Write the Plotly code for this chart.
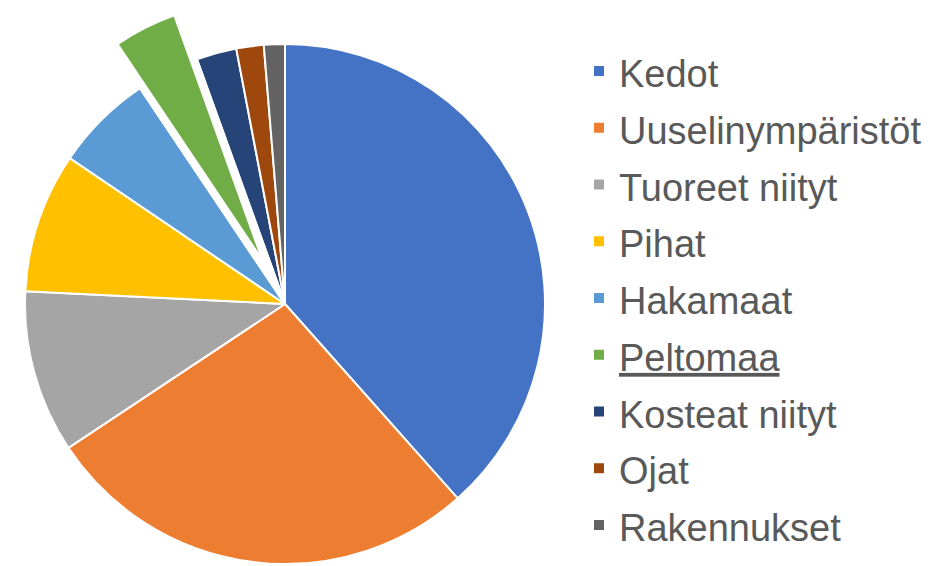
import math
import plotly.graph_objects as go

# ---- data ----
categories = ["Kedot", "Uuselinympäristöt", "Tuoreet niityt", "Pihat", "Hakamaat",
              "Peltomaa", "Kosteat niityt", "Ojat", "Rakennukset"]
shares = [38.4, 27.2, 10.1, 8.7, 6.1, 3.9, 2.5, 1.7, 1.3]
colors = ["#4472C4", "#ED7D31", "#A5A5A5", "#FFC000", "#5B9BD5",
          "#70AD47", "#264478", "#9E480E", "#636363"]
underlined = ["Peltomaa"]
pulled = "Peltomaa"

# ---- layout constants ----
W, H = 938, 566
CX, CY, R = 285, 304, 260      # pie centre / radius in px
PULL_PX = 50                   # exploded-slice offset in px
TRANSPARENT = "rgba(0,0,0,0)"


def domain(cx, cy, r):
    return dict(x=[max(0.0, (cx - r) / W), min(1.0, (cx + r) / W)],
                y=[max(0.0, 1 - (cy + r) / H), min(1.0, 1 - (cy - r) / H)])


def legend_label(name):
    txt = f"<u>{name}</u>" if name in underlined else name
    return f"<span style='font-size:38px'>{txt}</span>"


labels = [legend_label(c) for c in categories]

k = categories.index(pulled)
total = sum(shares)
before = sum(shares[:k])
after = sum(shares[k + 1:])
mid = (before + shares[k] / 2) / total * 2 * math.pi   # clockwise from 12 o'clock
ax = CX + PULL_PX * math.sin(mid)
ay = max(R, CY - PULL_PX * math.cos(mid))

common = dict(sort=False, direction="clockwise", rotation=0, textinfo="none")

fig = go.Figure()

# main pie
fig.add_trace(go.Pie(
    labels=labels, values=shares,
    marker=dict(colors=colors, line=dict(color="white", width=2)),
    domain=domain(CX, CY, R), showlegend=True, hoverinfo="label+percent",
    **common))

# blank out the exploded slice's original position
fig.add_trace(go.Pie(
    labels=["_pre", labels[k], "_post"], values=[before, shares[k], after],
    marker=dict(colors=[TRANSPARENT, "white", TRANSPARENT],
                line=dict(color=[TRANSPARENT, "white", TRANSPARENT], width=2.5)),
    domain=domain(CX, CY, R), showlegend=False, hoverinfo="skip",
    **common))

# exploded slice
fig.add_trace(go.Pie(
    labels=["_pre2", labels[k], "_post2"], values=[before, shares[k], after],
    marker=dict(colors=[TRANSPARENT, colors[k], TRANSPARENT],
                line=dict(color=[TRANSPARENT, "white", TRANSPARENT], width=2)),
    domain=domain(ax, ay, R), showlegend=False, hoverinfo="label+percent",
    **common))

fig.update_layout(
    width=W, height=H,
    margin=dict(l=0, r=0, t=0, b=0),
    paper_bgcolor="white", plot_bgcolor="white",
    legend=dict(x=579 / W, y=1 - 37.6 / H, xanchor="left", yanchor="top",
                font=dict(family="Arial, 'Liberation Sans', sans-serif",
                          size=41.35, color="#595959"),
                bgcolor="rgba(0,0,0,0)", borderwidth=0, traceorder="normal"),
)

fig.write_html("out.html", config={"displayModeBar": False},
               post_script="document.body.style.margin='0';")
